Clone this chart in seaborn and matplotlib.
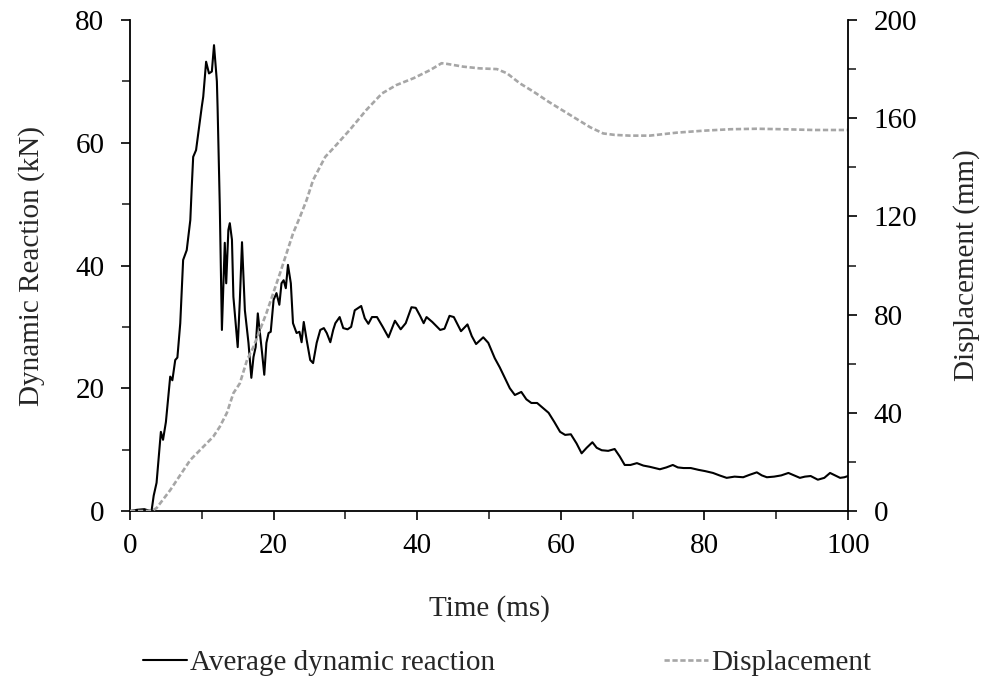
import matplotlib
matplotlib.use("Agg")
import matplotlib.pyplot as plt
from matplotlib.ticker import MultipleLocator
from matplotlib.lines import Line2D
import seaborn as sns
import pandas as pd

# ---- data ----
time_reaction = [0, 1, 2, 2.5, 3.0, 3.3, 3.7, 4.3, 4.6, 5.0, 5.6, 5.9, 6.3, 6.6, 7.0, 7.4, 7.9, 8.4, 8.6, 8.8,
                 9.2, 10.0, 10.2, 10.6, 11.0, 11.4, 11.7, 12.1, 12.2, 12.5, 12.8, 13.2, 13.4, 13.7, 13.9, 14.2,
                 14.4, 15.0, 15.3, 15.6, 16.0, 16.5, 16.9, 17.2, 17.5, 17.8, 18.1, 18.4, 18.7, 19.0, 19.3, 19.6,
                 20.0, 20.4, 20.8, 21.1, 21.4, 21.7, 22.0, 22.4, 22.7, 23.2, 23.6, 23.9, 24.2, 24.6, 25.1, 25.5,
                 26.0, 26.5, 27.0, 27.4, 27.9, 28.3, 28.6, 29.2, 29.7, 30.3, 30.8, 31.3, 32.2, 32.7, 33.2, 33.7,
                 34.4, 35.2, 36.0, 36.9, 37.7, 38.4, 39.2, 39.8, 40.4, 40.9, 41.3, 42.1, 43.2, 43.8, 44.5, 45.1,
                 46.1, 47.0, 47.6, 48.2, 49.2, 49.9, 50.8, 51.5, 52.2, 52.9, 53.6, 54.5, 55.2, 55.9, 56.7, 57.5,
                 58.3, 59.1, 59.9, 60.6, 61.4, 62.2, 62.9, 63.6, 64.4, 65.0, 65.7, 66.6, 67.5, 68.2, 68.9, 69.7,
                 70.6, 71.5, 72.4, 73.1, 73.8, 74.7, 75.6, 76.3, 77.1, 78.1, 79.2, 80.1, 81.2, 82.1, 83.1, 84.2,
                 85.4, 86.3, 87.3, 88.0, 88.7, 89.7, 90.7, 91.7, 92.5, 93.3, 94.0, 94.8, 95.8, 96.7, 97.5, 98.2,
                 98.9, 99.5, 100]
reaction_kN = [0, 0.2, 0.3, 0.1, 0, 2.5, 4.6, 12.9, 11.6, 14.5, 21.9, 21.3, 24.6, 25.0, 30.6, 40.9, 42.5, 47.4, 52.8, 57.7,
               58.8, 65.9, 67.5, 73.2, 71.3, 71.6, 75.9, 70.0, 65.7, 50.0, 29.5, 43.7, 37.1, 45.8, 46.9, 44.2,
               34.9, 26.7, 34.4, 43.8, 32.7, 27.4, 21.7, 25.1, 26.7, 32.2, 29.0, 25.7, 22.2, 27.4, 29.0, 29.2,
               34.4, 35.5, 33.6, 37.1, 37.6, 36.3, 40.1, 37.1, 30.6, 29.0, 29.2, 27.5, 30.8, 27.9, 24.6, 24.1,
               27.4, 29.5, 29.8, 29.0, 27.5, 29.5, 30.6, 31.6, 29.8, 29.6, 30.0, 32.7, 33.4, 31.4, 30.5, 31.6,
               31.6, 30.0, 28.3, 31.0, 29.6, 30.6, 33.2, 33.1, 31.8, 30.6, 31.6, 30.8, 29.5, 29.7, 31.8, 31.6,
               29.3, 30.4, 28.5, 27.2, 28.3, 27.4, 24.9, 23.4, 21.7, 20.0, 18.9, 19.4, 18.2, 17.6, 17.6, 16.8,
               16.0, 14.5, 12.9, 12.4, 12.5, 11.0, 9.4, 10.3, 11.2, 10.3, 9.9, 9.8, 10.1, 8.9, 7.5, 7.5,
               7.8, 7.4, 7.2, 7.0, 6.8, 7.1, 7.5, 7.1, 7.0, 7.0, 6.7, 6.5, 6.2, 5.8, 5.4, 5.6,
               5.5, 5.9, 6.3, 5.8, 5.5, 5.6, 5.8, 6.2, 5.8, 5.4, 5.6, 5.7, 5.1, 5.4, 6.2, 5.8,
               5.4, 5.5, 5.7]

time_disp = [0, 3, 3.7, 5.6, 8.4, 11.6, 12.5, 13.5, 14.4, 15.3, 16.3, 17.2, 19.0, 20.9, 22.7, 23.7, 24.6, 25.5,
             27.2, 28.3, 30.6, 32.9, 35.1, 37.1, 39.5, 41.8, 43.4, 44.2, 46.4, 48.7, 51.1, 52.5, 54.3, 56.2,
             58.3, 61.3, 64.1, 65.9, 67.5, 69.6, 72.4, 76.1, 79.8, 83.6, 87.3, 91.0, 95.2, 100]
displacement_mm = [0, 0, 1.2, 8.5, 20.8, 30.3, 34.3, 40.0, 48.0, 52.0, 61.5, 66.9, 80.6, 96.9, 113.0, 120.0, 126.7, 134.8,
                   144.3, 147.7, 155.2, 163.3, 170.1, 173.5, 176.3, 179.6, 182.4, 182.1, 181.0, 180.3, 180.0, 178.3, 174.2, 170.8,
                   166.7, 161.3, 156.3, 153.8, 153.2, 152.9, 152.9, 154.1, 154.9, 155.5, 155.7, 155.5, 155.2, 155.2]

legend_labels = ["Average dynamic reaction", "Displacement"]

df_r = pd.DataFrame({"Time (ms)": time_reaction, "Reaction": reaction_kN})
df_d = pd.DataFrame({"Time (ms)": time_disp, "Displacement": displacement_mm})

# ---- style ----
sns.set_style("white")
plt.rcParams["font.family"] = ["Liberation Serif", "DejaVu Serif"]
FS = 21
GRAY = "#A6A6A6"
DASH = (0, (2, 1))

fig = plt.figure(figsize=(9.85, 6.82), dpi=100)
ax = fig.add_axes([130 / 985, 1 - 511 / 682, (848 - 130) / 985, (511 - 20) / 682])
ax2 = ax.twinx()

sns.lineplot(data=df_r, x="Time (ms)", y="Reaction", ax=ax, color="black", linewidth=1.5,
             estimator=None, sort=False)
sns.lineplot(data=df_d, x="Time (ms)", y="Displacement", ax=ax2, color=GRAY, linewidth=1.9,
             linestyle=DASH, estimator=None, sort=False)

ax.set_xlim(0, 100)
ax.set_ylim(0, 80)
ax2.set_ylim(0, 200)

ax.xaxis.set_major_locator(MultipleLocator(20))
ax.xaxis.set_minor_locator(MultipleLocator(10))
ax.yaxis.set_major_locator(MultipleLocator(20))
ax.yaxis.set_minor_locator(MultipleLocator(10))
ax2.yaxis.set_major_locator(MultipleLocator(40))
ax2.yaxis.set_minor_locator(MultipleLocator(20))

for a in (ax, ax2):
    a.tick_params(which="major", direction="out", length=6.5, width=1.2, labelsize=FS, pad=12, colors="black")
    a.tick_params(which="minor", direction="out", length=5.5, width=1.2)
    for s in a.spines.values():
        s.set_visible(False)

ax.tick_params(axis="x", pad=9)
ax.tick_params(left=True, bottom=True, which="both")
ax2.tick_params(right=True, which="both")
ax.spines["left"].set_visible(True)
ax.spines["bottom"].set_visible(True)
ax2.spines["right"].set_visible(True)
for s in (ax.spines["left"], ax.spines["bottom"], ax2.spines["right"]):
    s.set_color("black")
    s.set_linewidth(1.3)

ax.set_xlabel("Time (ms)", fontsize=FS, labelpad=26)
ax.set_ylabel("Dynamic Reaction (kN)", fontsize=FS, labelpad=22)
ax2.set_ylabel("Displacement (mm)", fontsize=FS, labelpad=26)
ax.grid(False)
ax2.grid(False)

handles = [Line2D([], [], color="black", linewidth=1.5),
           Line2D([], [], color=GRAY, linewidth=1.9, linestyle=DASH)]
fig.legend(handles, legend_labels, loc="center",
           bbox_to_anchor=(0.515, 1 - 663 / 682), ncol=2, frameon=False, fontsize=FS,
           handlelength=1.5, handletextpad=0.1, columnspacing=5.8)

fig.savefig("out.png", dpi=100)
